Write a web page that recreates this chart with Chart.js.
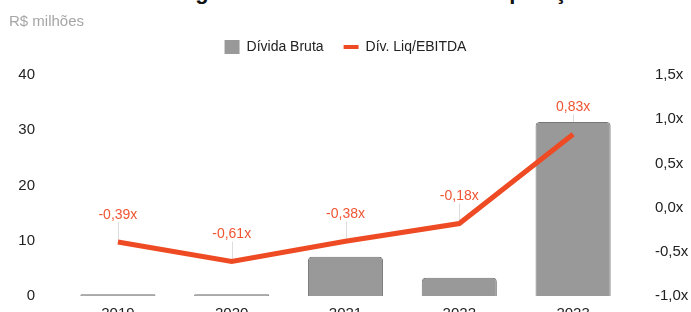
<!DOCTYPE html>
<html>
<head>
<meta charset="utf-8">
<script src="https://cdn.jsdelivr.net/npm/chart.js@4"></script>
<style>
  html, body { margin: 0; padding: 0; background: #fff; overflow: hidden; }
  body { width: 691px; height: 312px; position: relative; }
  #title {
    position: absolute; left: 0; width: 691px; top: -19px;
    text-align: center; font: bold 22px "Liberation Sans", Arial, sans-serif;
    line-height: 22px; color: #111; white-space: nowrap;
  }
  #unit {
    position: absolute; left: 9px; top: 12px;
    font: 15px "Liberation Sans", Arial, sans-serif; line-height: 18px; color: #a6a6a6;
  }
  #wrap { position: absolute; left: 0; top: 0; }
</style>
</head>
<body>
<div id="title">Alavancagem e Endividamento da Composição</div>
<div id="wrap"><canvas id="myChart" width="691" height="332"></canvas></div>
<div id="unit">R$ milhões</div>
<script>
var years = ["2019", "2020", "2021", "2022", "2023"];
var dividaBruta = [0.3, 0.3, 7.1, 3.3, 31.5];
var divLiqEbitda = [-0.39, -0.61, -0.38, -0.18, 0.83];
var leftTicks = [0, 10, 20, 30, 40];
var rightTicks = [-1.0, -0.5, 0.0, 0.5, 1.0, 1.5];

var barColor = "#999999";
var lineColor = "#ee4a24";
var font = "'Liberation Sans', Arial, sans-serif";

function fmtX(v) {
    return v.toFixed(2).replace(".", ",") + "x";
}

// red value labels with a thin leader line above each point
var pointLabels = {
    id: "pointLabels",
    beforeDatasetsDraw(chart) {
        var meta = chart.getDatasetMeta(1);
        var ctx = chart.ctx;
        ctx.save();
        ctx.strokeStyle = "#dddddd";
        ctx.lineWidth = 1;
        meta.data.forEach(p => {
            ctx.beginPath();
            ctx.moveTo(Math.round(p.x) + 0.5, p.y - 20);
            ctx.lineTo(Math.round(p.x) + 0.5, p.y - 2);
            ctx.stroke();
        });
        ctx.restore();
    },
    afterDatasetsDraw(chart) {
        var meta = chart.getDatasetMeta(1);
        var ctx = chart.ctx;
        ctx.save();
        ctx.font = "14px " + font;
        ctx.fillStyle = "#ef5533";
        ctx.textAlign = "center";
        ctx.textBaseline = "middle";
        meta.data.forEach((p, i) => {
            ctx.fillText(fmtX(divLiqEbitda[i]), p.x, p.y - 27);
        });
        ctx.restore();
    }
};

// fixed legend height so the plot starts where the reference does
var legendSpace = {
    id: "legendSpace",
    beforeInit(chart) {
        var fit = chart.legend.fit;
        chart.legend.fit = function () {
            fit.bind(chart.legend)();
            this.height = 55;
        };
    }
};

new Chart("myChart", {
    type: "bar",
    data: {
        labels: years,
        datasets: [
            {
                type: "bar",
                label: "Dívida Bruta",
                data: dividaBruta,
                backgroundColor: barColor,
                borderColor: "#777777",
                borderWidth: 1,
                borderRadius: 4,
                borderSkipped: "bottom",
                categoryPercentage: 1,
                barPercentage: 0.66,
                yAxisID: "y",
                order: 1,
                pointStyle: "rect",
            },
            {
                type: "line",
                label: "Dív. Liq/EBITDA",
                data: divLiqEbitda,
                borderColor: lineColor,
                backgroundColor: lineColor,
                borderWidth: 5,
                pointRadius: 0,
                tension: 0,
                yAxisID: "y1",
                order: 0,
                pointStyle: "line",
            },
        ],
    },
    options: {
        responsive: false,
        animation: false,
        layout: { padding: { left: 0, right: 0, top: 20, bottom: 0 } },
        scales: {
            x: {
                grid: { display: false, drawTicks: false },
                border: { display: false },
                ticks: { color: "#222", font: { size: 15, family: font }, padding: 9 },
            },
            y: {
                position: "left",
                min: 0,
                max: 40,
                afterBuildTicks: axis => { axis.ticks = leftTicks.map(v => ({ value: v })); },
                afterFit: axis => { axis.width = 61; },
                grid: { display: false, drawTicks: false },
                border: { display: false },
                ticks: { color: "#222", font: { size: 15, family: font }, padding: 26 },
            },
            y1: {
                position: "right",
                min: -1,
                max: 1.5,
                afterBuildTicks: axis => { axis.ticks = rightTicks.map(v => ({ value: v })); },
                afterFit: axis => { axis.width = 61; },
                grid: { display: false, drawTicks: false },
                border: { display: false },
                ticks: {
                    color: "#222",
                    font: { size: 15, family: font },
                    padding: 25,
                    callback: v => v.toFixed(1).replace(".", ",") + "x",
                },
            },
        },
        plugins: {
            legend: {
                display: true,
                labels: {
                    usePointStyle: true,
                    pointStyleWidth: 15,
                    boxHeight: 14,
                    padding: 20,
                    color: "#222",
                    font: { size: 14, family: font },
                    sort: (a, b) => a.datasetIndex - b.datasetIndex,
                    generateLabels: chart => {
                        var items = Chart.defaults.plugins.legend.labels.generateLabels(chart);
                        items.forEach(it => {
                            if (it.datasetIndex === 0) { it.lineWidth = 0; it.fillStyle = barColor; }
                            else { it.lineWidth = 4; }
                        });
                        return items;
                    },
                },
            },
            tooltip: { enabled: false },
        },
    },
    plugins: [pointLabels, legendSpace],
});
</script>
</body>
</html>
